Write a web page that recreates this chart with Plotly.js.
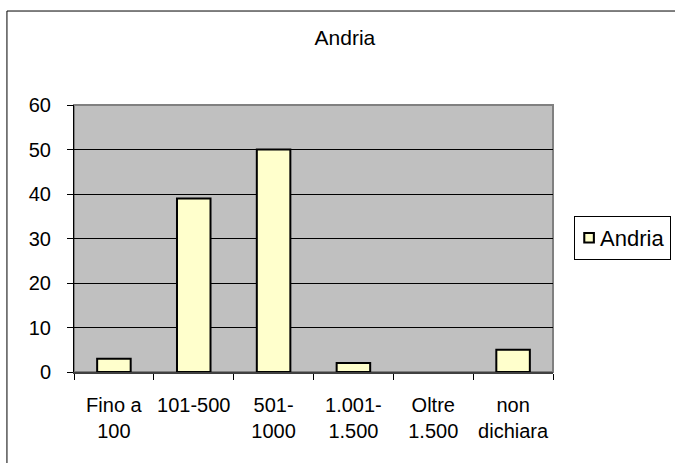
<!DOCTYPE html>
<html>
<head>
<meta charset="utf-8">
<script src="https://cdn.plot.ly/plotly-3.0.1.min.js"></script>
<style>
html,body{margin:0;padding:0;background:#fff;}
#chart{width:675px;height:463px;}
</style>
</head>
<body>
<div id="chart"></div>
<script>
const categories = ["Fino a<br>100", "101-500", "501-<br>1000", "1.001-<br>1.500", "Oltre<br>1.500", "non<br>dichiara"];
const seriesName = "Andria";
const values = [3, 39, 50, 2, 0, 5];
const yTicks = [0, 10, 20, 30, 40, 50, 60];

const fam = "Liberation Sans, Arial, sans-serif";
const font = {family: fam, size: 20, color: "#000"};

const trace = {
  type: "bar",
  x: categories,
  y: values,
  name: seriesName,
  showlegend: true,
  marker: {color: "#FFFFCC", line: {color: "#000", width: values.map(v => v === 0 ? 0 : 2)}},
  width: 0.42
};

const layout = {
  width: 675, height: 463,
  margin: {l: 74, r: 122, t: 105, b: 91, pad: 0, autoexpand: false},
  paper_bgcolor: "#fff",
  plot_bgcolor: "#C0C0C0",
  font: font,
  title: {text: "Andria", font: {family: fam, size: 21, color: "#000"}, x: 0.511, xanchor: "center", xref: "container", y: 0.918, yanchor: "middle", yref: "container"},
  showlegend: true,
  legend: {x: 1.044, xanchor: "left", y: 0.502, yanchor: "middle", bgcolor: "#fff", bordercolor: "#000", borderwidth: 1, font: {family: fam, size: 22, color: "#000"}, itemwidth: 30, indentation: -15},
  xaxis: {
    type: "category",
    tickson: "boundaries",
    ticks: "outside", ticklen: 6, tickcolor: "#000", tickwidth: 1,
    showline: true, linecolor: "#404040", linewidth: 2,
    showgrid: false, zeroline: false,
    tickfont: font, tickangle: 0,
    ticklabelstandoff: 14,
    fixedrange: true
  },
  yaxis: {
    range: [0, 60],
    tickvals: yTicks,
    ticks: "outside", ticklen: 6, tickcolor: "#000", tickwidth: 1,
    showline: true, linecolor: "#000", linewidth: 1,
    showgrid: true, gridcolor: "#000", gridwidth: 1,
    zeroline: false,
    tickfont: font,
    ticklabelstandoff: 12,
    fixedrange: true
  },
  shapes: [
    {type: "rect", xref: "paper", yref: "paper", x0: 0, x1: 1, y0: 0, y1: 1, line: {color: "#808080", width: 2}, layer: "below"},
    {type: "rect", xref: "paper", yref: "paper", x0: -0.14, x1: 1.3, y0: -0.5, y1: 1.352, line: {color: "#000", width: 1}, fillcolor: "rgba(0,0,0,0)"}
  ]
};

Plotly.newPlot("chart", [trace], layout, {displayModeBar: false, staticPlot: true}).then(function (gd) {
  gd.querySelectorAll(".legend .legendpoints path").forEach(function (p) {
    p.setAttribute("transform", (p.getAttribute("transform") || "") + " translate(9,0) scale(0.8)");
    p.style.strokeWidth = "2.6px";
    p.style.stroke = "#000";
  });
});
</script>
</body>
</html>
